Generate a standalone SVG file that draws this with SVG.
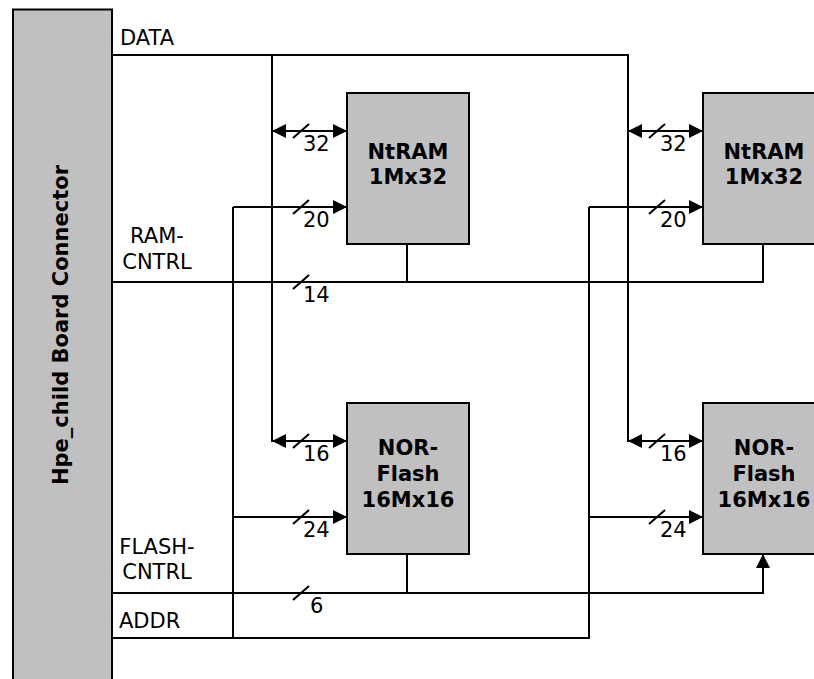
<svg xmlns="http://www.w3.org/2000/svg" width="814" height="679" viewBox="0 0 814 679">
<style>
  .box { fill: #c0c0c0; stroke: #000; stroke-width: 2; }
  .ln { fill: none; stroke: #000; stroke-width: 2; }
  .t { font-family: "DejaVu Sans", Verdana, sans-serif; font-size: 21px; fill: #000; }
  .b { font-family: "DejaVu Sans", Verdana, sans-serif; font-size: 21px; font-weight: bold; fill: #000; text-anchor: middle; }
</style>
<defs>
  <marker id="ah" markerWidth="14" markerHeight="14" viewBox="0 0 14 14" refX="14" refY="7" orient="auto-start-reverse" markerUnits="userSpaceOnUse">
    <path d="M0,0 L14,7 L0,14 Z" fill="#000"/>
  </marker>
</defs>
<rect width="814" height="679" fill="#fff"/>

<g id="connector">
  <rect class="box" x="13" y="9.5" width="99" height="690"/>
  <text class="b" transform="translate(68,325) rotate(-90)">Hpe_child Board Connector</text>
</g>

<g id="ram1">
  <rect class="box" x="347" y="93" width="122" height="151"/>
  <text class="b" x="408" y="159">NtRAM</text>
  <text class="b" x="408" y="184">1Mx32</text>
</g>
<g id="ram2">
  <rect class="box" x="703" y="93" width="122" height="151"/>
  <text class="b" x="764" y="159">NtRAM</text>
  <text class="b" x="764" y="184">1Mx32</text>
</g>
<g id="flash1">
  <rect class="box" x="347" y="403" width="122" height="151"/>
  <text class="b" x="408" y="455">NOR-</text>
  <text class="b" x="408" y="481">Flash</text>
  <text class="b" x="408" y="507">16Mx16</text>
</g>
<g id="flash2">
  <rect class="box" x="703" y="403" width="122" height="151"/>
  <text class="b" x="764" y="455">NOR-</text>
  <text class="b" x="764" y="481">Flash</text>
  <text class="b" x="764" y="507">16Mx16</text>
</g>

<g id="connectors">
  <!-- DATA bus -->
  <path class="ln" d="M112,55 H628 V442"/>
  <path class="ln" d="M272,55 V442"/>
  <path class="ln" d="M272,131 H347" marker-start="url(#ah)" marker-end="url(#ah)"/>
  <path class="ln" d="M628,131 H703" marker-start="url(#ah)" marker-end="url(#ah)"/>
  <path class="ln" d="M272,441 H347" marker-start="url(#ah)" marker-end="url(#ah)"/>
  <path class="ln" d="M628,441 H703" marker-start="url(#ah)" marker-end="url(#ah)"/>
  <!-- ADDR bus -->
  <path class="ln" d="M112,638 H589 V207"/>
  <path class="ln" d="M233,638 V207"/>
  <path class="ln" d="M233,207 H347" marker-end="url(#ah)"/>
  <path class="ln" d="M589,207 H703" marker-end="url(#ah)"/>
  <path class="ln" d="M233,517 H347" marker-end="url(#ah)"/>
  <path class="ln" d="M589,517 H703" marker-end="url(#ah)"/>
  <!-- RAM-CNTRL -->
  <path class="ln" d="M112,282 H763 V244"/>
  <path class="ln" d="M407,244 V282"/>
  <!-- FLASH-CNTRL -->
  <path class="ln" d="M112,593 H763 V554" marker-end="url(#ah)"/>
  <path class="ln" d="M407,554 V593"/>
  <!-- width slashes -->
  <path class="ln" stroke-width="1.5" d="M293,138 L309,124 M649,138 L665,124 M293,214 L309,200 M649,214 L665,200 M293,289 L309,275 M293,448 L309,434 M649,448 L665,434 M293,524 L309,510 M649,524 L665,510 M293,600 L309,586"/>
</g>

<g id="labels">
  <text class="t" x="120" y="45">DATA</text>
  <text class="t" x="157" y="243" text-anchor="middle">RAM-</text>
  <text class="t" x="157" y="269" text-anchor="middle">CNTRL</text>
  <text class="t" x="157" y="554" text-anchor="middle">FLASH-</text>
  <text class="t" x="157" y="579" text-anchor="middle">CNTRL</text>
  <text class="t" x="119" y="628">ADDR</text>
  <text class="t" x="303" y="151">32</text>
  <text class="t" x="660" y="151">32</text>
  <text class="t" x="303" y="227">20</text>
  <text class="t" x="660" y="227">20</text>
  <text class="t" x="303" y="302">14</text>
  <text class="t" x="303" y="461">16</text>
  <text class="t" x="660" y="461">16</text>
  <text class="t" x="303" y="537">24</text>
  <text class="t" x="660" y="537">24</text>
  <text class="t" x="310" y="613">6</text>
</g>
</svg>
